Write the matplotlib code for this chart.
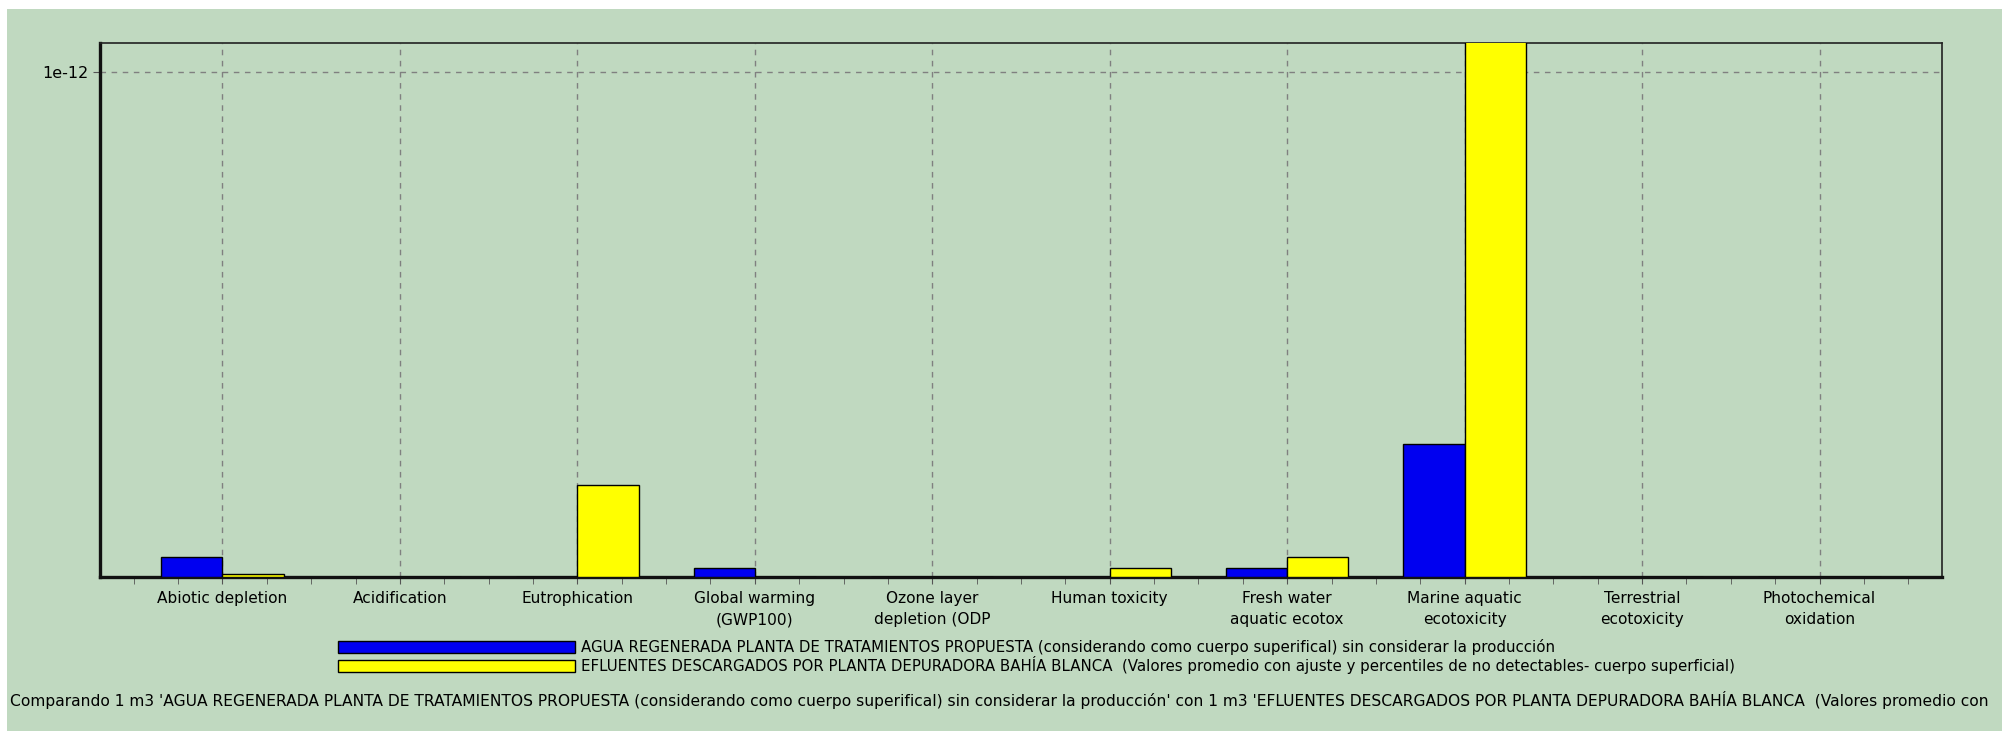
import matplotlib
matplotlib.use('Agg')
import matplotlib.pyplot as plt
from matplotlib.patches import Rectangle, Patch
from matplotlib.ticker import FixedLocator, MultipleLocator
import numpy as np

plt.rcParams['font.family'] = ['DejaVu Sans']

categories = ['Abiotic depletion', 'Acidification', 'Eutrophication',
              'Global warming\n(GWP100)', 'Ozone layer\ndepletion (ODP',
              'Human toxicity', 'Fresh water\naquatic ecotox',
              'Marine aquatic\necotoxicity', 'Terrestrial\necotoxicity',
              'Photochemical\noxidation']
agua = [0.040e-12, 0, 0, 0.018e-12, 0, 0, 0.018e-12, 0.263e-12, 0, 0]
efluentes = [0.005e-12, 0, 0.182e-12, 0, 0, 0.018e-12, 0.040e-12, 1.25e-12, 0, 0]

label_agua = ('AGUA REGENERADA PLANTA DE TRATAMIENTOS PROPUESTA (considerando como '
              'cuerpo superifical) sin considerar la producción')
label_efl = ('EFLUENTES DESCARGADOS POR PLANTA DEPURADORA BAHÍA BLANCA  (Valores '
             'promedio con ajuste y percentiles de no detectables- cuerpo superficial)')
footer = ("Comparando 1 m3 'AGUA REGENERADA PLANTA DE TRATAMIENTOS PROPUESTA "
          "(considerando como cuerpo superifical) sin considerar la producción' con "
          "1 m3 'EFLUENTES DESCARGADOS POR PLANTA DEPURADORA BAHÍA BLANCA  (Valores promedio con")

green = '#c0d9c0'
blue = '#0000f0'
yellow = '#ffff00'

W, H = 2002, 731
fig = plt.figure(figsize=(W / 100, H / 100), dpi=100, facecolor='white')
fig.add_artist(Rectangle((7 / W, 0), 1, (H - 9) / H, transform=fig.transFigure,
                         facecolor=green, edgecolor='none', zorder=-10))

ax = fig.add_axes([100 / W, (H - 577) / H, (1942 - 100) / W, (577 - 43) / H])
ax.set_facecolor(green)

x = np.arange(len(categories))
bw = 0.345
ax.bar(x - bw / 2, agua, bw, color=blue, edgecolor='black', linewidth=1, zorder=3)
ax.bar(x + bw / 2, efluentes, bw, color=yellow, edgecolor='black', linewidth=1, zorder=3)

ax.set_xlim(-0.69, len(categories) - 1 + 0.69)
ax.set_ylim(0, 1.058e-12)

ax.set_xticks(x)
ax.set_xticklabels(categories, fontsize=11.1, linespacing=1.55)
ax.xaxis.set_minor_locator(MultipleLocator(0.25))
ax.yaxis.set_major_locator(FixedLocator([1e-12]))
ax.set_yticklabels(['1e-12'], fontsize=11.5)
ax.tick_params(axis='x', which='both', length=5, color='#555555', pad=5)
ax.tick_params(axis='y', length=5, color='#555555', pad=3)

ax.grid(True, which='major', linestyle=(0, (4, 4)), color='#808080', linewidth=1, zorder=0)
ax.set_axisbelow(True)

for side in ['left', 'bottom']:
    ax.spines[side].set_linewidth(2.4)
    ax.spines[side].set_color('#111111')
for side in ['top', 'right']:
    ax.spines[side].set_linewidth(1.2)
    ax.spines[side].set_color('#222222')

lfs = 10.8
handles = [Patch(facecolor=blue, edgecolor='black', label=label_agua),
           Patch(facecolor=yellow, edgecolor='black', label=label_efl)]
fig.legend(handles=handles, loc='upper left', bbox_to_anchor=(338 / W, (H - 639) / H),
           frameon=False, fontsize=lfs, handlelength=237 / (lfs * 100 / 72),
           handleheight=0.85, handletextpad=0.4, labelspacing=0.05,
           borderpad=0, borderaxespad=0)

fig.text(10 / W, (H - 700) / H, footer, fontsize=11.15, va='center', ha='left')

fig.savefig('out.png', dpi=100, facecolor=fig.get_facecolor())
